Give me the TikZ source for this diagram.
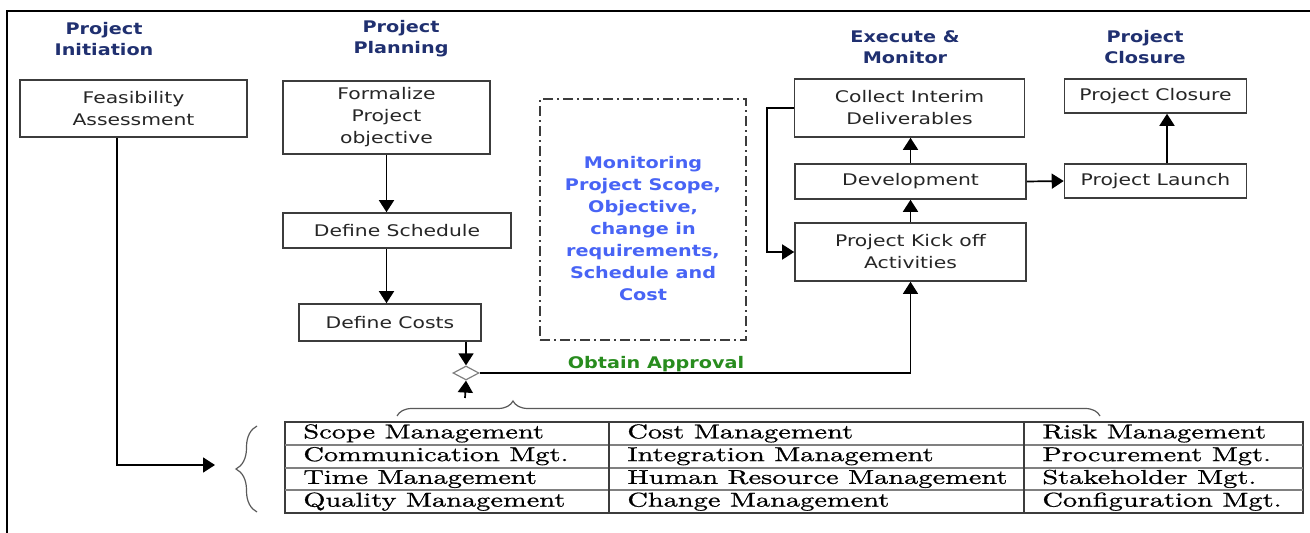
\documentclass[tikz,border=0pt]{standalone}
\usepackage{fontspec}
\usepackage{tikz}
\usetikzlibrary{arrows.meta,shapes.geometric,decorations.pathreplacing}

\newfontfamily\boxfont{DejaVu Sans}[FakeStretch=1.27]
\newfontfamily\hdfont{DejaVu Sans}[FakeStretch=1.2]
\newfontfamily\tabfont{lmroman10-regular}[Extension=.otf, FakeStretch=1.42, FakeBold=0.8]

\definecolor{hdblue}{RGB}{32,48,112}
\definecolor{monblue}{RGB}{72,100,245}
\definecolor{okgreen}{RGB}{40,140,30}
\definecolor{edge}{RGB}{60,60,60}

\begin{document}
\begin{tikzpicture}[x=0.5pt, y=-0.5pt, inner sep=0pt]
    \tikzstyle{box}=[rectangle, draw=edge, line width=0.8pt, align=center, text=black!85, font=\boxfont\fontsize{8}{11}\selectfont]
    \tikzstyle{hd}=[align=center, text=hdblue, font=\hdfont\bfseries\fontsize{8}{10.5}\selectfont]
    \tikzstyle{arr}=[-{Triangle[length=6pt,width=7.5pt]}, line width=0.85pt]
    \tikzstyle{cell}=[anchor=west, text height=7pt, text depth=2pt, font=\tabfont\fontsize{10}{12}\selectfont]
    \tikzstyle{brc}=[draw=black!65, line width=0.6pt, decorate]

    \useasboundingbox (0,0) rectangle (1310,533);
    \draw[line width=1pt] (1310,11) -- (7,11) -- (7,533);

    % phase titles
    \node[hd] (h1) at (104,39) {Project\\Initiation};
    \node[hd] (h2) at (401,39) {Project\\Planning};
    \node[hd] (h3) at (905,47) {Execute \&\\Monitor};
    \node[hd] (h4) at (1145,47) {Project\\Closure};

    % initiation and planning
    \node[box, minimum width=113.5pt, minimum height=28.5pt] (feas) at (133.5,108.5) {Feasibility\\Assessment};
    \node[box, minimum width=103.5pt, minimum height=36.5pt] (formal) at (386.5,117.5) {Formalize\\Project\\objective};
    \node[box, minimum width=114pt, minimum height=17.5pt] (sched) at (397,230.5) {Define Schedule};
    \node[box, minimum width=91pt, minimum height=18.5pt] (costs) at (390,322.5) {Define Costs};
    \node[diamond, draw=gray, line width=0.6pt, aspect=1.8, minimum width=13pt, minimum height=7pt] (diam) at (466,373) {};

    % monitoring
    \node[draw=edge, line width=0.8pt, dash pattern=on 5pt off 2pt on 1pt off 2pt, minimum width=103pt, minimum height=120.5pt] (mon) at (643,219.5) {};
    \node[align=center, text=monblue, font=\hdfont\bfseries\fontsize{8}{11}\selectfont] (montxt) at (643,228.5)
        {Monitoring\\Project Scope,\\Objective,\\change in\\requirements,\\Schedule and\\Cost};
    \node[text=okgreen, font=\hdfont\bfseries\fontsize{8}{10}\selectfont] (ok) at (656,364) {Obtain Approval};

    % execution and closure
    \node[box, minimum width=115pt, minimum height=29pt] (collect) at (909.5,108) {Collect Interim\\Deliverables};
    \node[box, minimum width=115.5pt, minimum height=17.5pt] (devel) at (910.5,181.5) {Development};
    \node[box, minimum width=115.5pt, minimum height=29pt] (kick) at (910.5,252) {Project Kick off\\Activities};
    \node[box, minimum width=91pt, minimum height=17pt] (closure) at (1155.5,96) {Project Closure};
    \node[box, minimum width=91pt, minimum height=17pt] (launch) at (1155.5,181) {Project Launch};

    % knowledge areas
    \node[draw=edge, line width=0.6pt, minimum width=509pt, minimum height=45.5pt] (tbl) at (794,467.5) {};
    \foreach \y in {445,468,490}
        \draw[gray, line width=0.8pt] (285,\y) -- (1303,\y);
    \foreach \x in {609,1024}
        \draw[edge, line width=0.6pt] (\x,422) -- (\x,513);
    \foreach \a/\b/\c [count=\i] in {Scope Management/Cost Management/Risk Management,
        Communication Mgt./Integration Management/Procurement Mgt.,
        Time Management/Human Resource Management/Stakeholder Mgt.,
        Quality Management/Change Management/Configuration Mgt.}
    {
        \node[cell] (ka\i) at (303,410.6+22.75*\i) {\a};
        \node[cell] (kb\i) at (627,410.6+22.75*\i) {\b};
        \node[cell] (kc\i) at (1042,410.6+22.75*\i) {\c};
    }
    \draw[brc, decoration={brace, amplitude=7.5pt, aspect=0.165}] (397,416) -- (1100,416);
    \draw[brc, decoration={brace, amplitude=10.5pt}] (257,512) -- (257,426);
    \coordinate (tip) at (465,398);
    \coordinate (lin) at (215,465);

    % flow
    \draw[arr] ([xshift=-8.25pt]feas.south) |- (lin);
    \draw[arr] (formal.south) -- (formal.south |- sched.north);
    \draw[arr] (formal.south |- sched.south) -- (formal.south |- costs.north);
    \draw[arr] (costs.south -| diam.north) -- (diam.north);
    \draw[arr] (tip) -- (diam.south);
    \draw[arr, line width=0.6pt] (diam.east) -| (kick.south);
    \draw[arr] (kick.north) -- (kick.north |- devel.south);
    \draw[arr] (devel.north) -- (devel.north |- collect.south);
    \draw[arr] (collect.west) -- ++(-27,0) |- (kick.west);
    \draw[arr] (devel.east) -- (launch.west);
    \draw[arr] ([xshift=5.75pt]launch.north) -- ([xshift=5.75pt]closure.south);
\end{tikzpicture}
\end{document}
